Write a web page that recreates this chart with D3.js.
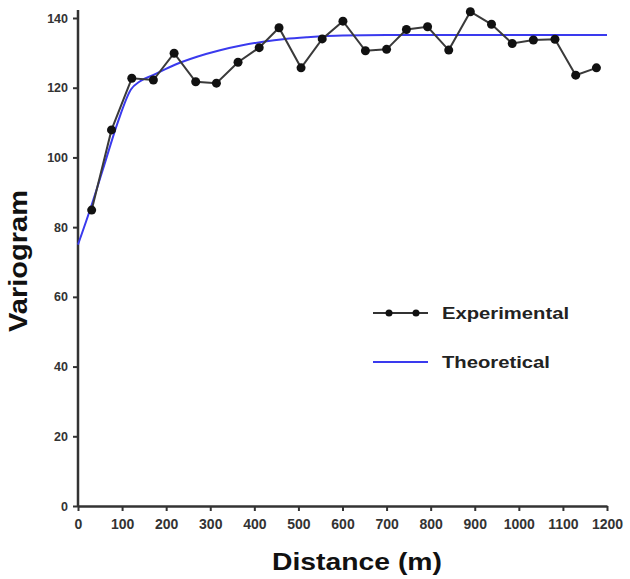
<!DOCTYPE html>
<html>
<head>
<meta charset="utf-8">
<script src="https://cdn.jsdelivr.net/npm/d3@7"></script>
<style>
  body { margin: 0; background: #fff; }
  svg { font-family: "Liberation Sans", Arial, sans-serif; }
</style>
</head>
<body>
<div id="chart"></div>
<script>
// experimental variogram (distance in m, variogram value)
var expDist = [31, 76, 122, 171, 218, 267, 314, 363, 411, 456, 506, 554, 601,
               652, 700, 745, 793, 841, 890, 938, 985, 1033, 1082, 1129, 1176];
var expVal = [84.9, 107.9, 122.7, 122.2, 129.9, 121.7, 121.3, 127.3, 131.5, 137.2, 125.7, 134.0, 139.1,
              130.6, 131.0, 136.7, 137.5, 130.8, 141.8, 138.2, 132.7, 133.7, 133.9, 123.6, 125.7];

// fitted model
var theoDist = [0, 30, 60, 90, 120, 140, 170, 220, 270, 320, 370, 420, 470, 520, 600, 700, 1200];
var theoVal = [75, 86, 98, 110, 119.5, 121.8, 123.6, 126.6, 128.9, 130.7, 132.1, 133.2, 134.0, 134.5, 135.0, 135.1, 135.1];

var xTicks = [0, 100, 200, 300, 400, 500, 600, 700, 800, 900, 1000, 1100, 1200];
var yTicks = [0, 20, 40, 60, 80, 100, 120, 140];

var margin = {top: 18, right: 23, bottom: 73, left: 78};
var width = 630 - margin.left - margin.right;
var height = 579 - margin.top - margin.bottom;

var svg = d3.select("#chart").append("svg")
    .attr("width", 630)
    .attr("height", 579);

var g = svg.append("g")
    .attr("transform", "translate(" + margin.left + "," + margin.top + ")");

var x = d3.scaleLinear().domain([0, 1200]).range([0, width]);
var y = d3.scaleLinear().domain([0, 140]).range([height, 0]);

// axes
var xAxis = g.append("g")
    .attr("transform", "translate(0," + height + ")")
    .call(d3.axisBottom(x).tickValues(xTicks).tickFormat(d3.format("d"))
        .tickSize(5).tickPadding(8).tickSizeOuter(0));
var yAxis = g.append("g")
    .call(d3.axisLeft(y).tickValues(yTicks).tickFormat(d3.format("d"))
        .tickSize(5).tickPadding(5).tickSizeOuter(0));

// y axis line runs a little above the top tick
yAxis.select(".domain").attr("d", "M0," + height + "V-8");

g.selectAll(".domain").style("stroke", "#333").style("stroke-width", 2.5);
g.selectAll(".tick line").style("stroke", "#333").style("stroke-width", 2);
g.selectAll(".tick text")
    .style("fill", "#333")
    .style("font-weight", "bold");
xAxis.selectAll(".tick text").style("font-size", "14px");
yAxis.selectAll(".tick text").style("font-size", "12.5px");

// theoretical model
var theo = theoDist.map(function(d, i) { return [d, theoVal[i]]; });
g.append("path")
    .datum(theo)
    .attr("fill", "none")
    .attr("stroke", "#3a3aee")
    .attr("stroke-width", 2)
    .attr("d", d3.line()
        .x(function(d) { return x(d[0]); })
        .y(function(d) { return y(d[1]); })
        .curve(d3.curveMonotoneX));

// experimental
var exp = expDist.map(function(d, i) { return [d, expVal[i]]; });
g.append("path")
    .datum(exp)
    .attr("fill", "none")
    .attr("stroke", "#3a3a3a")
    .attr("stroke-width", 2)
    .attr("d", d3.line()
        .x(function(d) { return x(d[0]); })
        .y(function(d) { return y(d[1]); }));
g.selectAll(".dot")
    .data(exp)
    .enter().append("circle")
      .attr("class", "dot")
      .attr("cx", function(d) { return x(d[0]); })
      .attr("cy", function(d) { return y(d[1]); })
      .attr("r", 4.5)
      .attr("fill", "#111");

// legend
var legend = svg.append("g").attr("transform", "translate(373,313)");
legend.append("line").attr("x1", 0).attr("x2", 55).attr("y1", 0).attr("y2", 0)
    .style("stroke", "#333").style("stroke-width", 2);
legend.selectAll(".ldot").data([16, 43]).enter().append("circle")
    .attr("cx", function(d) { return d; }).attr("cy", 0).attr("r", 3.5).attr("fill", "#111");
legend.append("text").attr("x", 69).attr("y", 6)
    .attr("textLength", 127).attr("lengthAdjust", "spacingAndGlyphs")
    .style("font-size", "17px").style("font-weight", "bold").style("fill", "#222")
    .text("Experimental");
legend.append("line").attr("x1", 0).attr("x2", 55).attr("y1", 49).attr("y2", 49)
    .style("stroke", "#3a3aee").style("stroke-width", 2);
legend.append("text").attr("x", 69).attr("y", 55)
    .attr("textLength", 108).attr("lengthAdjust", "spacingAndGlyphs")
    .style("font-size", "17px").style("font-weight", "bold").style("fill", "#222")
    .text("Theoretical");

// axis titles
svg.append("text")
    .attr("transform", "translate(272,570)")
    .attr("textLength", 170).attr("lengthAdjust", "spacingAndGlyphs")
    .style("font-size", "24px")
    .style("font-weight", "bold")
    .style("fill", "#111")
    .text("Distance (m)");
svg.append("text")
    .attr("transform", "translate(27,332) rotate(-90)")
    .attr("textLength", 142).attr("lengthAdjust", "spacingAndGlyphs")
    .style("font-size", "25px")
    .style("font-weight", "bold")
    .style("fill", "#111")
    .text("Variogram");
</script>
</body>
</html>
